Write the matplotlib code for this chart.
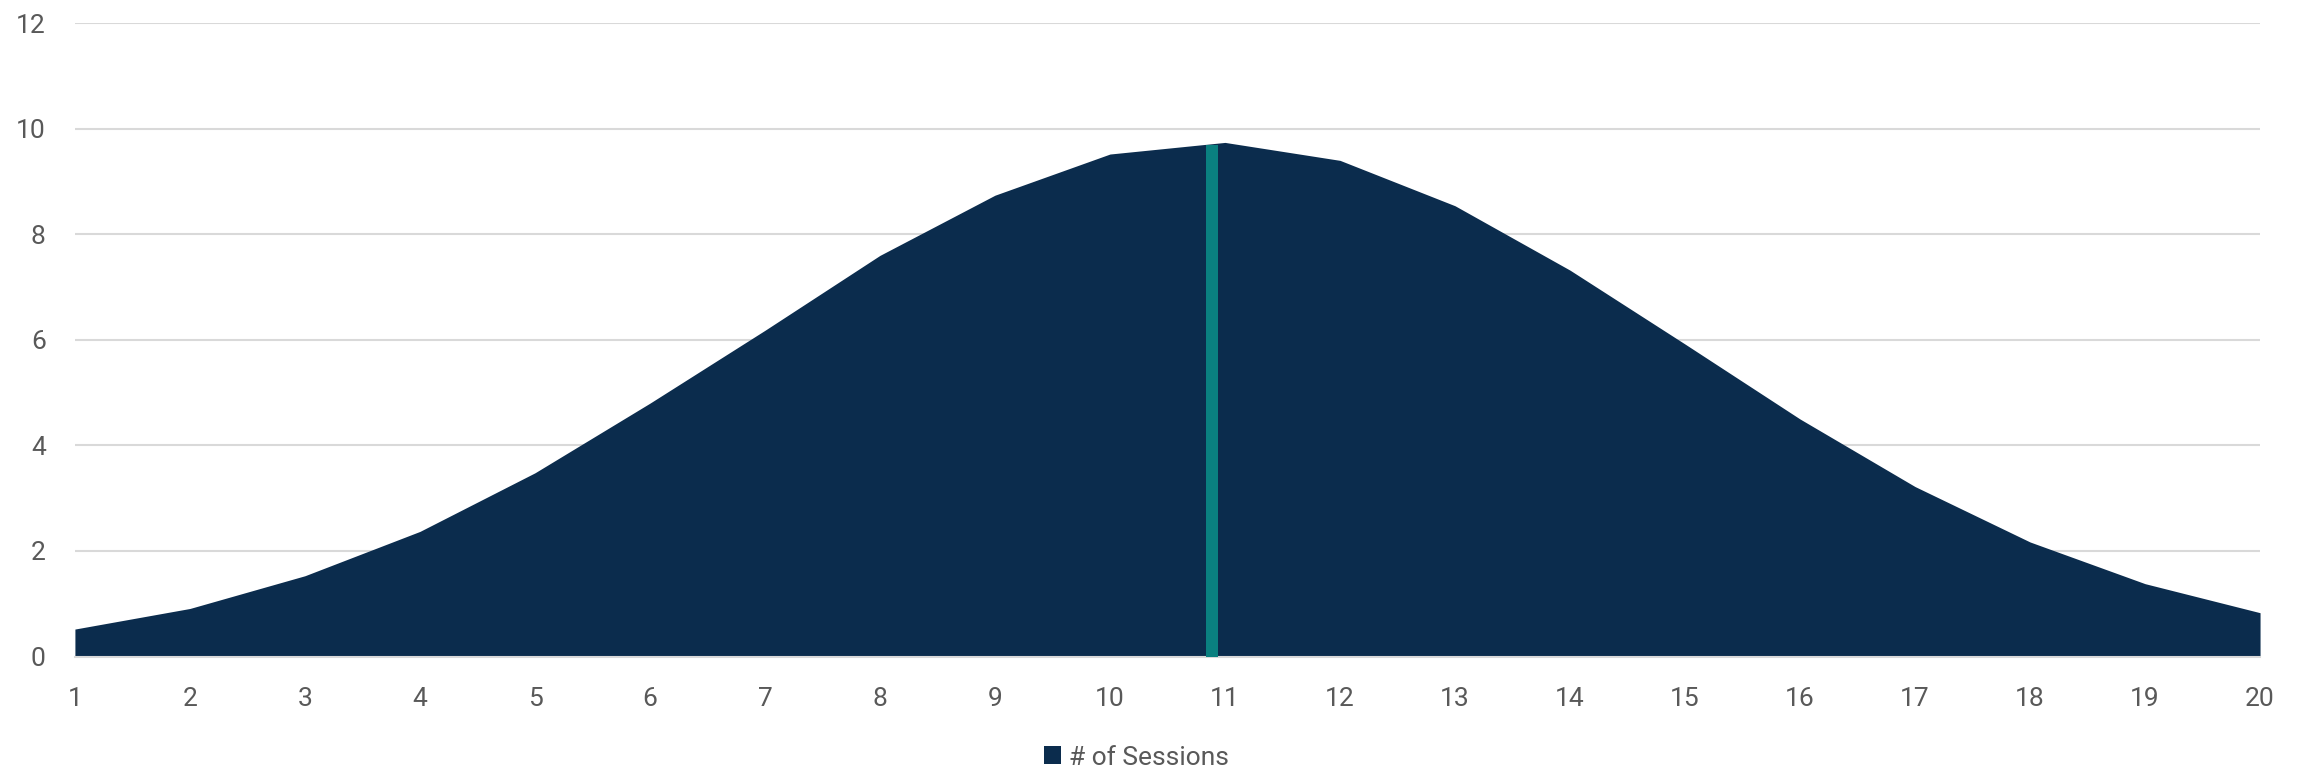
import numpy as np
import matplotlib.pyplot as plt

plt.rcParams['font.family'] = ['Roboto', 'DejaVu Sans']

# donnees
sessions = [1, 2, 3, 4, 5, 6, 7, 8, 9, 10, 11, 12, 13, 14, 15, 16, 17, 18, 19, 20]
nb_sessions = [0.52, 0.91, 1.53, 2.37, 3.48, 4.80, 6.18, 7.60, 8.74, 9.52,
               9.74, 9.40, 8.54, 7.32, 5.92, 4.50, 3.22, 2.17, 1.38, 0.83]
# marqueur vertical (moyenne)
moyenne_x = 10.89
moyenne_h = 9.69

y_ticks = [0, 2, 4, 6, 8, 10, 12]

navy = '#0B2C4D'
teal = '#0A8080'
gris_txt = '#595959'
gris_grille = '#D9D9D9'

fig = plt.figure(figsize=(23.05, 7.71), dpi=100)
ax = fig.add_axes([0.0325, 0.1485, 0.948, 0.8215])

ax.fill_between(sessions, nb_sessions, 0, color=navy, linewidth=0, label='# of Sessions', zorder=2)
ax.bar([moyenne_x], [moyenne_h], width=0.104, color=teal, linewidth=0, zorder=3)

ax.set_xlim(1, 20)
ax.set_ylim(0, 12)
ax.set_xticks(sessions)
ax.set_yticks(y_ticks)
ax.grid(axis='y', color=gris_grille, linewidth=1.5, zorder=0)
ax.set_axisbelow(True)

for s in ['top', 'right', 'left']:
    ax.spines[s].set_visible(False)
ax.spines['bottom'].set_color(gris_grille)
ax.spines['bottom'].set_linewidth(1.5)

ax.tick_params(axis='both', length=0, labelsize=19, labelcolor=gris_txt)
ax.tick_params(axis='x', pad=22)
ax.tick_params(axis='y', pad=21)

# legende en bas, centree
fig.legend(loc='center', bbox_to_anchor=(0.493, 0.0175), frameon=False,
           fontsize=19, labelcolor=gris_txt, handlelength=0.65, handleheight=0.65,
           handletextpad=0.3, borderpad=0)

fig.savefig('out.png', dpi=100)
